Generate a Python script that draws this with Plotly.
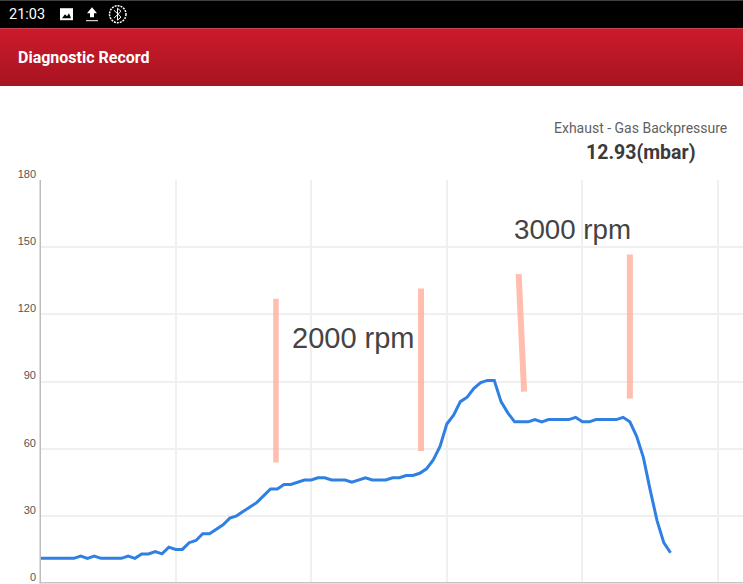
#exhaust backpressure diagnostic screen
import plotly.graph_objs as go

#data
backpressure = [11, 11, 11, 11, 11, 11, 12, 11, 12, 11, 11, 11, 11, 12, 11, 13, 13, 14, 13, 16,
                15, 15, 18, 19, 22, 22, 24, 26, 29, 30, 32, 34, 36, 39, 42, 42, 44, 44, 45, 46,
                46, 47, 47, 46, 46, 46, 45, 46, 47, 46, 46, 46, 47, 47, 48, 48, 49, 51, 55, 61,
                71, 75, 81, 83, 87, 89.5, 90.5, 90.5, 81, 76, 72, 72, 72, 73, 72, 73, 73, 73, 73, 74,
                72, 72, 73, 73, 73, 73, 74, 72, 65.5, 56, 41.5, 28, 18, 13.5]
samples = list(range(len(backpressure)))
y_ticks = [0, 30, 60, 90, 120, 150, 180]
x_ticks = [0, 20, 40, 60, 80, 100]

#hand drawn marks on the screenshot: (x start, x end), (y start, y end)
stroke_x = [(34.8, 34.8), (56.2, 56.2), (70.6, 71.4), (87, 87)]
stroke_y = [(127, 53.8), (131.5, 59), (138, 85.5), (146.7, 82.4)]
stroke_width = [5.5, 6, 6, 6]
rpm_labels = ["2000 rpm", "3000 rpm"]
rpm_label_x = [46.2, 78.6]
rpm_label_y = [109.3, 158]
rpm_label_size = [29, 27.7]

W, H = 743, 584
LEFT, TOP, BOTTOM = 40, 180, 0.5


def px(x):
    return (x - LEFT) / (W - LEFT)


def py(y):
    return (H - BOTTOM - y) / (H - TOP - BOTTOM)


def rect(x0, y0, x1, y1, color):
    return dict(type="rect", xref="paper", yref="paper", x0=px(x0), x1=px(x1), y0=py(y0), y1=py(y1),
                fillcolor=color, line_width=0, layer="above")


def path(points, color, width=0, fill=None):
    d = "M" + " L".join(f"{px(a)},{py(b)}" for a, b in points)
    if fill:
        d += " Z"
    return dict(type="path", xref="paper", yref="paper", path=d, line=dict(color=color, width=width),
                fillcolor=fill, layer="above")


fig = go.Figure()

for xs, ys, w in zip(stroke_x, stroke_y, stroke_width):
    fig.add_trace(go.Scatter(x=xs, y=ys, mode="lines", hoverinfo="skip", opacity=0.85,
                             line=dict(color="#ffb3a0", width=w)))

fig.add_trace(go.Scatter(x=samples, y=backpressure, mode="lines", hoverinfo="skip",
                         line=dict(color="#2f80e2", width=3)))

#status bar and red header, each gradient strip runs to the bottom so no gaps show
shapes = [rect(0, 0, W, 28, "#000000")]
top_col = (204, 27, 45)
bottom_col = (168, 21, 33)
for i in range(58):
    t = i / 57
    c = [round(a + (b - a) * t) for a, b in zip(top_col, bottom_col)]
    shapes.append(rect(0, 28 + i, W, 86, f"rgb({c[0]},{c[1]},{c[2]})"))

#axis lines as thin bars, the bottom one would fall off the page otherwise
shapes.append(rect(39.5, 180, 41, H, "#bdbdbd"))
shapes.append(rect(39.5, 582.5, W, H, "#c4c4c4"))

#status icons
shapes.append(rect(60, 8, 73, 20, "#ffffff"))
shapes.append(path([(62, 18), (65, 14), (67, 16), (69, 13), (71, 18)], "#000000", fill="#000000"))
shapes.append(path([(92, 7), (97, 13), (94, 13), (94, 17), (90, 17), (90, 13), (87, 13)], "#ffffff", fill="#ffffff"))
shapes.append(rect(86, 20, 98, 21, "#ffffff"))
shapes.append(dict(type="circle", xref="paper", yref="paper", x0=px(109.5), x1=px(126), y0=py(5.5), y1=py(22.5),
                   line=dict(color="#ffffff", width=1.5, dash="2px,1px"), layer="above"))
shapes.append(path([(114, 10), (121, 17), (117.5, 20), (117.5, 8), (121, 11), (114, 18)], "#ffffff", width=1))

fig.update_layout(
    width=W, height=H, autosize=False,
    margin=dict(l=LEFT, r=0, t=TOP, b=BOTTOM, pad=0),
    paper_bgcolor="#ffffff", plot_bgcolor="#ffffff",
    showlegend=False, shapes=shapes,
    font=dict(family="Roboto", color="#555555"),
)
fig.update_xaxes(range=[0, (W - LEFT) / 6.78], tickvals=x_ticks, showticklabels=False, ticks="",
                 showgrid=True, gridcolor="#f0f0f0", gridwidth=1.5, zeroline=False, showline=False)
fig.update_yaxes(range=[0, 180], tickvals=y_ticks, ticks="", showgrid=True, gridcolor="#f0f0f0", gridwidth=1.5,
                 zeroline=False, showline=False,
                 tickfont=dict(family="Liberation Sans", size=11, color="#555555"),
                 ticklabelstandoff=3, ticklabelshift=-6)

texts = [
    dict(text="21:03", x=7, y=14, xanchor="left", font=dict(family="Roboto", size=14.5, color="#ffffff")),
    dict(text="<b>Diagnostic Record</b>", x=16, y=57, xanchor="left", font=dict(family="Roboto", size=16, color="#ffffff")),
    dict(text="Exhaust - Gas Backpressure", x=729, y=128, xanchor="right", font=dict(family="Roboto", size=14, color="#616161")),
    dict(text="<b>12.93(mbar)</b>", x=640.5, y=152, xanchor="center", font=dict(family="Roboto", size=19.5, color="#3a3a3a")),
]
for t in texts:
    fig.add_annotation(xref="paper", yref="paper", x=px(t["x"]), y=py(t["y"]), text=t["text"], showarrow=False,
                       xanchor=t["xanchor"], yanchor="middle", font=t["font"])

for label, lx, ly, size in zip(rpm_labels, rpm_label_x, rpm_label_y, rpm_label_size):
    fig.add_annotation(x=lx, y=ly, text=label, showarrow=False, xanchor="center", yanchor="middle",
                       font=dict(family="Liberation Sans", size=size, color="#444444"))

fig.write_html("out.html", config={"displayModeBar": False}, post_script="document.body.style.margin='0';")
